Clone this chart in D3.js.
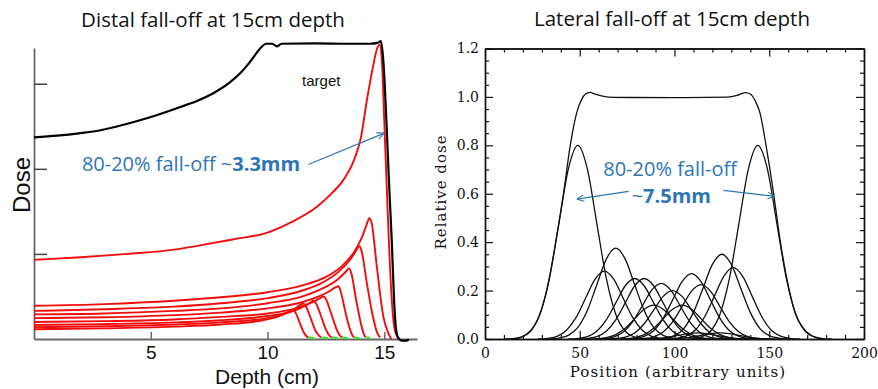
<!DOCTYPE html>
<html>
<head>
<meta charset="utf-8">
<title>Distal and lateral fall-off at 15cm depth</title>
<script src="https://cdn.jsdelivr.net/npm/d3@7"></script>
<style>
  body { margin: 0; background: #fff; }
  svg { display: block; }
</style>
</head>
<body>
<svg id="chart" width="878" height="389"></svg>
<script>
// ---------- left panel: depth (cm) vs dose ----------
const depthTicks = [5, 10, 15];
const doseTicks = [1, 2, 3];

// spread-out Bragg peak (black)
const sobpCurve = [
  [0, 2.37], [1, 2.39], [2, 2.42], [2.8, 2.45], [4, 2.53], [4.9, 2.6], [6.3, 2.73],
  [7.0, 2.8], [7.75, 2.9], [8.4, 3.02], [8.85, 3.13], [9.2, 3.24], [9.45, 3.33],
  [9.7, 3.42], [9.95, 3.47], [10.2, 3.47], [10.4, 3.44], [10.6, 3.47], [12, 3.475],
  [13.5, 3.47], [14.4, 3.47], [14.7, 3.48], [14.85, 3.5], [14.95, 3.3], [15.1, 2.5],
  [15.2, 1.85], [15.32, 1.15], [15.42, 0.45], [15.5, 0.12], [15.6, 0.01],
  [15.75, -0.02], [15.95, -0.02], [16.05, -0.005]
];

// individual pristine peaks (red), deepest first
const braggCurves = [
  [[0, 0.93], [2, 0.96], [4, 1.0], [6, 1.05], [7.1, 1.1], [8.5, 1.17], [10, 1.25], [11, 1.37],
   [12.1, 1.55], [12.7, 1.7], [13.25, 1.87], [13.7, 2.1], [14.0, 2.37], [14.25, 2.8], [14.5, 3.18],
   [14.7, 3.42], [14.8, 3.46], [14.9, 3.25], [15.0, 2.55], [15.18, 1.25], [15.3, 0.55],
   [15.42, 0.15], [15.55, 0.03], [15.65, 0]],
  [[0, 0.39], [3, 0.41], [6, 0.45], [8, 0.49], [10, 0.55], [11.5, 0.63], [12.5, 0.73], [13.2, 0.86],
   [13.7, 1.02], [14.05, 1.2], [14.25, 1.35], [14.36, 1.42], [14.46, 1.36], [14.68, 0.85],
   [14.96, 0.26], [15.17, 0.07], [15.3, 0]],
  [[0, 0.33], [3, 0.35], [6, 0.38], [8, 0.42], [10, 0.48], [11.5, 0.57], [12.4, 0.67], [13.0, 0.78],
   [13.5, 0.92], [13.8, 1.04], [13.93, 1.09], [14.03, 1.03], [14.25, 0.66], [14.5, 0.28],
   [14.7, 0.07], [14.82, 0.02]],
  [[0, 0.29], [3, 0.3], [6, 0.33], [8, 0.36], [10, 0.42], [11.5, 0.5], [12.4, 0.6], [13.0, 0.7],
   [13.35, 0.79], [13.49, 0.83], [13.58, 0.78], [13.8, 0.45], [14.0, 0.18], [14.12, 0.06], [14.2, 0.02]],
  [[0, 0.245], [3, 0.255], [6, 0.28], [8, 0.31], [10, 0.36], [11.3, 0.42], [12.2, 0.5], [12.7, 0.57],
   [12.92, 0.61], [13.03, 0.62], [13.12, 0.57], [13.3, 0.36], [13.5, 0.14], [13.62, 0.05], [13.7, 0.02]],
  [[0, 0.2], [3, 0.21], [6, 0.23], [8, 0.26], [10, 0.3], [11.2, 0.36], [11.9, 0.43], [12.25, 0.48],
   [12.39, 0.5], [12.5, 0.47], [12.7, 0.32], [12.95, 0.12], [13.1, 0.04], [13.2, 0.02]],
  [[0, 0.165], [3, 0.175], [6, 0.195], [8, 0.22], [10, 0.27], [11.0, 0.32], [11.6, 0.39], [11.85, 0.43],
   [11.96, 0.45], [12.07, 0.42], [12.25, 0.3], [12.5, 0.11], [12.65, 0.04], [12.75, 0.02]],
  [[0, 0.14], [3, 0.15], [6, 0.17], [8, 0.195], [10, 0.245], [10.8, 0.3], [11.25, 0.37], [11.45, 0.41],
   [11.53, 0.42], [11.63, 0.39], [11.8, 0.28], [12.05, 0.1], [12.2, 0.04], [12.3, 0.02]],
  [[0, 0.115], [3, 0.125], [6, 0.145], [8, 0.17], [9.8, 0.22], [10.5, 0.27], [10.9, 0.32], [11.1, 0.34],
   [11.2, 0.31], [11.35, 0.21], [11.55, 0.08], [11.68, 0.03], [11.75, 0.02]]
];

// low-dose tails (green)
const greenTails = [
  [[11.75, 0.02], [11.9, 0.014], [12.04, 0.008]],
  [[12.3, 0.02], [12.45, 0.014], [12.6, 0.008]],
  [[12.75, 0.02], [12.9, 0.014], [13.03, 0.008]],
  [[13.2, 0.02], [13.33, 0.014], [13.46, 0.008]],
  [[13.7, 0.02], [13.83, 0.014], [13.96, 0.008]],
  [[14.2, 0.02], [14.3, 0.014], [14.4, 0.008]]
];

// ---------- right panel: position vs relative dose ----------
const positionTicks = [0, 50, 100, 150, 200];
const relDoseTicks = [0, 0.2, 0.4, 0.6, 0.8, 1.0, 1.2];

const envelopeCurve = [
  [10, 0], [14, 0.001], [18, 0.004], [22, 0.02], [26, 0.054], [29.5, 0.114], [33, 0.215],
  [37.5, 0.408], [41.5, 0.605], [45, 0.8], [48.4, 0.935], [51, 0.99], [53, 1.012], [55.4, 1.019],
  [58, 1.012], [62, 1.003], [68, 0.998], [100, 0.997], [128, 0.999], [133, 1.006], [137.2, 1.018],
  [140, 1.012], [142.5, 0.985], [145.1, 0.934], [148.3, 0.8], [152.2, 0.606], [155.7, 0.41],
  [160.6, 0.2], [164, 0.1], [167.4, 0.05], [172, 0.015], [177, 0.003], [183, 0]
];

// each spot profile sampled every 5 units from its start position
const spotStep = 5;
const spotStart = [14, 109, 34, 28, 44, 49, 58, 64, 54, 69, 74, 79, 90, 96, 77, 89];
const spotDose = [
  [0, .008, .032, .102, .251, .478, .703, .80, .703, .478, .251, .102, .032, .008, 0],
  [0, .008, .032, .102, .251, .478, .703, .80, .703, .478, .251, .102, .032, .008, 0],
  [0, .004, .015, .048, .118, .224, .330, .375, .330, .224, .118, .048, .015, .004, 0],
  [0, .003, .011, .036, .088, .167, .246, .280, .246, .167, .088, .036, .011, .003, 0],
  [0, .003, .010, .032, .079, .149, .220, .250, .220, .149, .079, .032, .010, .003, 0],
  [0, .003, .010, .032, .079, .149, .220, .250, .220, .149, .079, .032, .010, .003, 0],
  [0, .002, .009, .029, .072, .137, .202, .230, .202, .137, .072, .029, .009, .002, 0],
  [0, .002, .008, .025, .063, .119, .176, .200, .176, .119, .063, .025, .008, .002, 0],
  [0, .001, .006, .018, .044, .084, .123, .140, .123, .084, .044, .018, .006, .001, 0],
  [0, .001, .006, .018, .044, .084, .123, .140, .123, .084, .044, .018, .006, .001, 0],
  [0, .003, .011, .034, .085, .161, .237, .270, .237, .161, .085, .034, .011, .003, 0],
  [0, .002, .009, .029, .071, .134, .198, .225, .198, .134, .071, .029, .009, .002, 0],
  [0, .004, .014, .044, .110, .209, .308, .350, .308, .209, .110, .044, .014, .004, 0],
  [0, .003, .012, .037, .093, .176, .259, .295, .259, .176, .093, .037, .012, .003, 0],
  [0, 0, .001, .003, .008, .015, .022, .025, .022, .015, .008, .003, .001, 0, 0],
  [0, 0, .001, .003, .008, .015, .022, .025, .022, .015, .008, .003, .001, 0, 0]
];

const blue = '#2e75b6';
const sansTitle = '"Open Sans", "Noto Sans", sans-serif';
const sansArial = '"Liberation Sans", Arial, sans-serif';
const serifFont = '"DejaVu Serif", "Liberation Serif", serif';

const svg = d3.select('#chart');

// arrow head
svg.append('defs').append('marker')
  .attr('id', 'arrow')
  .attr('viewBox', '0 0 10 10')
  .attr('refX', 10).attr('refY', 5)
  .attr('markerWidth', 8).attr('markerHeight', 8)
  .attr('markerUnits', 'userSpaceOnUse')
  .attr('orient', 'auto-start-reverse')
  .append('path')
  .attr('d', 'M1,1 L10,5 L1,9')
  .attr('fill', 'none')
  .attr('stroke', blue)
  .attr('stroke-width', 1.3);

// ===== left panel =====
const xL = d3.scaleLinear().domain([0, 16.4]).range([34, 417]);
const yL = d3.scaleLinear().domain([0, 3.42]).range([339, 48]);
const left = svg.append('g');

left.append('text')
  .attr('x', 213).attr('y', 27)
  .attr('text-anchor', 'middle')
  .style('font-family', sansTitle).style('font-size', '20.5px').style('fill', '#111')
  .text('Distal fall-off at 15cm depth');

const xAxisL = left.append('g')
  .attr('transform', `translate(0,${yL(0)})`)
  .call(d3.axisBottom(xL).tickValues(depthTicks).tickSize(-7).tickSizeOuter(0).tickPadding(7));
xAxisL.select('.domain').attr('stroke', '#666').attr('stroke-width', 1.8);
xAxisL.selectAll('.tick line').attr('stroke', '#666').attr('stroke-width', 1.5);
xAxisL.selectAll('.tick text')
  .style('font-family', sansArial).style('font-size', '19px').style('fill', '#111');

const yAxisL = left.append('g')
  .attr('transform', `translate(${xL(0)},0)`)
  .call(d3.axisLeft(yL).tickValues(doseTicks).tickSize(-13).tickSizeOuter(0).tickFormat(''));
yAxisL.select('.domain').attr('stroke', '#666').attr('stroke-width', 1.8);
yAxisL.selectAll('.tick line').attr('stroke', '#444').attr('stroke-width', 1.5);

left.append('text')
  .attr('transform', 'translate(30,185) rotate(-90)')
  .attr('text-anchor', 'middle')
  .style('font-family', sansArial).style('font-size', '24px').style('fill', '#111')
  .text('Dose');

left.append('text')
  .attr('x', 267).attr('y', 384)
  .attr('text-anchor', 'middle')
  .style('font-family', sansArial).style('font-size', '21px').style('fill', '#111')
  .text('Depth (cm)');

const lineL = d3.line()
  .x(d => xL(d[0]))
  .y(d => yL(d[1]))
  .curve(d3.curveMonotoneX);

left.selectAll('path.bragg')
  .data(braggCurves)
  .enter()
  .append('path')
  .attr('class', 'bragg')
  .attr('d', lineL)
  .attr('fill', 'none')
  .attr('stroke', '#f20d0d')
  .attr('stroke-width', 1.9);

left.append('path')
  .datum(sobpCurve)
  .attr('d', lineL)
  .attr('fill', 'none')
  .attr('stroke', '#000')
  .attr('stroke-width', 2.2);

left.selectAll('path.tail')
  .data(greenTails)
  .enter()
  .append('path')
  .attr('class', 'tail')
  .attr('d', lineL)
  .attr('fill', 'none')
  .attr('stroke', '#3ee03e')
  .attr('stroke-width', 2.2);

left.append('text')
  .attr('x', xL(11.48)).attr('y', yL(2.97))
  .style('font-family', sansArial).style('font-size', '15px').style('fill', '#111')
  .text('target');

const noteL = left.append('text')
  .attr('x', xL(2.05)).attr('y', yL(1.97))
  .style('font-family', sansTitle).style('font-size', '20px').style('fill', blue);
noteL.append('tspan').text('80-20% fall-off ~');
noteL.append('tspan').style('font-weight', 'bold').text('3.3mm');

left.append('line')
  .attr('x1', xL(11.75)).attr('y1', yL(2.05))
  .attr('x2', xL(15.0)).attr('y2', yL(2.42))
  .attr('stroke', blue).attr('stroke-width', 1.2)
  .attr('marker-end', 'url(#arrow)');

// ===== right panel =====
const xR = d3.scaleLinear().domain([0, 200]).range([485, 864]);
const yR = d3.scaleLinear().domain([0, 1.2]).range([339, 48.5]);
const right = svg.append('g');

right.append('text')
  .attr('x', 672).attr('y', 26)
  .attr('text-anchor', 'middle')
  .style('font-family', sansTitle).style('font-size', '20.5px').style('fill', '#111')
  .text('Lateral fall-off at 15cm depth');

const minorX = d3.range(0, 201, 10).filter(v => v % 50 !== 0);
const minorY = d3.range(0, 25).filter(i => i % 4 !== 0).map(i => i * 0.05);

function styleFrame(g) {
  g.select('.domain').attr('stroke', '#111').attr('stroke-width', 1.4);
  g.selectAll('.tick line').attr('stroke', '#111').attr('stroke-width', 1.2);
  g.selectAll('.tick text')
    .style('font-family', serifFont).style('font-size', '14px').style('fill', '#111');
}

right.append('g').attr('transform', `translate(0,${yR(0)})`)
  .call(d3.axisBottom(xR).tickValues(positionTicks).tickSize(-8).tickSizeOuter(0).tickPadding(9))
  .call(styleFrame);
right.append('g').attr('transform', `translate(0,${yR(0)})`)
  .call(d3.axisBottom(xR).tickValues(minorX).tickSize(-4).tickSizeOuter(0).tickFormat(''))
  .call(styleFrame);
right.append('g').attr('transform', `translate(0,${yR(1.2)})`)
  .call(d3.axisTop(xR).tickValues(positionTicks).tickSize(-8).tickSizeOuter(0).tickFormat(''))
  .call(styleFrame);
right.append('g').attr('transform', `translate(0,${yR(1.2)})`)
  .call(d3.axisTop(xR).tickValues(minorX).tickSize(-4).tickSizeOuter(0).tickFormat(''))
  .call(styleFrame);
right.append('g').attr('transform', `translate(${xR(0)},0)`)
  .call(d3.axisLeft(yR).tickValues(relDoseTicks).tickSize(-8).tickSizeOuter(0)
    .tickPadding(6).tickFormat(d3.format('.1f')))
  .call(styleFrame);
right.append('g').attr('transform', `translate(${xR(0)},0)`)
  .call(d3.axisLeft(yR).tickValues(minorY).tickSize(-4).tickSizeOuter(0).tickFormat(''))
  .call(styleFrame);
right.append('g').attr('transform', `translate(${xR(200)},0)`)
  .call(d3.axisRight(yR).tickValues(relDoseTicks).tickSize(-8).tickSizeOuter(0).tickFormat(''))
  .call(styleFrame);
right.append('g').attr('transform', `translate(${xR(200)},0)`)
  .call(d3.axisRight(yR).tickValues(minorY).tickSize(-4).tickSizeOuter(0).tickFormat(''))
  .call(styleFrame);

right.append('text')
  .attr('x', 678).attr('y', 377)
  .attr('text-anchor', 'middle')
  .style('font-family', serifFont).style('font-size', '15px')
  .style('letter-spacing', '1.1px').style('fill', '#111')
  .text('Position (arbitrary units)');

right.append('text')
  .attr('transform', 'translate(446,192) rotate(-90)')
  .attr('text-anchor', 'middle')
  .style('font-family', serifFont).style('font-size', '15px')
  .style('letter-spacing', '1px').style('fill', '#111')
  .text('Relative dose');

const lineR = d3.line()
  .x(d => xR(d[0]))
  .y(d => yR(d[1]))
  .curve(d3.curveMonotoneX);

const spotCurves = spotDose.map((vals, k) => vals.map((v, i) => [spotStart[k] + i * spotStep, v]));

right.selectAll('path.spot')
  .data(spotCurves)
  .enter()
  .append('path')
  .attr('class', 'spot')
  .attr('d', lineR)
  .attr('fill', 'none')
  .attr('stroke', '#111')
  .attr('stroke-width', 1.3);

right.append('path')
  .datum(envelopeCurve)
  .attr('d', lineR)
  .attr('fill', 'none')
  .attr('stroke', '#111')
  .attr('stroke-width', 1.3);

right.append('text')
  .attr('x', xR(62.4)).attr('y', yR(0.672))
  .style('font-family', sansTitle).style('font-size', '20px').style('fill', blue)
  .text('80-20% fall-off');

const noteR = right.append('text')
  .attr('x', xR(77.4)).attr('y', yR(0.562))
  .style('font-family', sansTitle).style('font-size', '20px').style('fill', blue);
noteR.append('tspan').text('~');
noteR.append('tspan').style('font-weight', 'bold').text('7.5mm');

right.append('line')
  .attr('x1', xR(75.8)).attr('y1', yR(0.61))
  .attr('x2', xR(48.4)).attr('y2', yR(0.578))
  .attr('stroke', blue).attr('stroke-width', 1.2)
  .attr('marker-end', 'url(#arrow)');

right.append('line')
  .attr('x1', xR(125.8)).attr('y1', yR(0.614))
  .attr('x2', xR(153.0)).attr('y2', yR(0.589))
  .attr('stroke', blue).attr('stroke-width', 1.2)
  .attr('marker-end', 'url(#arrow)');
</script>
</body>
</html>
